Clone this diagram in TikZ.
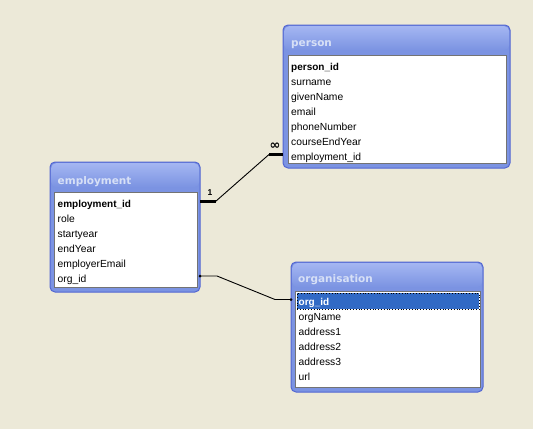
\documentclass[tikz,border=0pt]{standalone}
\usepackage{fontspec}
\setmainfont{Liberation Sans}
\newfontfamily\titlefont{DejaVu Sans}
\usetikzlibrary{calc}

\definecolor{desk}{HTML}{ECE9D8}
\definecolor{winblue}{HTML}{7B93E2}
\definecolor{winedge}{HTML}{5266D2}
\definecolor{titletop}{HTML}{A4B6F2}
\definecolor{titletext}{HTML}{D7E0F6}
\definecolor{selblue}{HTML}{316AC5}

\begin{document}
\begin{tikzpicture}[x=1pt, y=-1pt,
    win/.style={draw=winedge, fill=winblue, line width=1pt, rounded corners=5pt,
                anchor=north west, inner sep=0pt, outer sep=0pt},
    bar/.style={top color=titletop, bottom color=winblue, rounded corners=5pt,
                anchor=north west, inner sep=0pt, minimum height=24pt},
    title/.style={anchor=west, inner sep=0pt, text=titletext,
                  font=\titlefont\bfseries\fontsize{10.5}{12}\selectfont},
    list/.style={draw=black!55, fill=white, line width=1pt, anchor=north west, inner sep=0pt},
    field/.style={anchor=west, inner sep=0pt, text height=7pt, text depth=2pt,
                  font=\fontsize{10.3}{12}\selectfont},
    key/.style={field, font=\bfseries\fontsize{10}{12}\selectfont},
    rel/.style={line width=0.9pt},
    stub/.style={line width=2.8pt},
    card/.style={inner sep=0pt, font=\bfseries\fontsize{8.5}{9}\selectfont},
    dot/.style={circle, fill, inner sep=0pt, minimum size=3pt},
  ]
    \path[use as bounding box, fill=desk] (0,0) rectangle (533,429);

    % person table -----------------------------------------------------------
    \node[win, minimum width=227pt, minimum height=143pt] (person) at (283,25) {};
    \node[bar, minimum width=225pt] (p-bar)   at (284,26) {};
    \node[title]                    (p-title) at (291,45) {person};
    \node[list, minimum width=218.5pt, minimum height=108pt] (p-list) at (287.5,55) {};
    \node[key]   (p-id)      at (291,67.5)  {person\_id};
    \node[field] (p-surname) at (291,82.5)  {surname};
    \node[field] (p-given)   at (291,97.5)  {givenName};
    \node[field] (p-email)   at (291,112.5) {email};
    \node[field] (p-phone)   at (291,127.5) {phoneNumber};
    \node[field] (p-course)  at (291,142.5) {courseEndYear};
    \node[field] (p-empid)   at (291,157.5) {employment\_id};

    % employment table -------------------------------------------------------
    \node[win, minimum width=150pt, minimum height=130pt] (employment) at (50,162) {};
    \node[bar, minimum width=148pt] (e-bar)   at (51,163)   {};
    \node[title]                    (e-title) at (57.5,182) {employment};
    \node[list, minimum width=143pt, minimum height=95pt] (e-list) at (54,192) {};
    \node[key]   (e-id)     at (57.5,204.5) {employment\_id};
    \node[field] (e-role)   at (57.5,219.5) {role};
    \node[field] (e-start)  at (57.5,234.5) {startyear};
    \node[field] (e-end)    at (57.5,249.5) {endYear};
    \node[field] (e-email)  at (57.5,264.5) {employerEmail};
    \node[field] (e-orgid)  at (57.5,279.5) {org\_id};

    % organisation table -----------------------------------------------------
    \node[win, minimum width=192pt, minimum height=130pt] (organisation) at (291,262) {};
    \node[bar, minimum width=190pt] (o-bar)   at (292,263) {};
    \node[title]                    (o-title) at (298,280) {organisation};
    \node[list, minimum width=185pt, minimum height=96pt] (o-list) at (295,291) {};
    \node[fill=selblue, draw=black, dotted, line width=0.8pt, anchor=north west,
          inner sep=0pt, minimum width=182pt, minimum height=16pt] (o-sel) at (296.5,293) {};
    \node[key, text=white] (o-id)    at (298.5,302.5) {org\_id};
    \node[field] (o-name)  at (298.5,317.5) {orgName};
    \node[field] (o-addr1) at (298.5,332.5) {address1};
    \node[field] (o-addr2) at (298.5,347.5) {address2};
    \node[field] (o-addr3) at (298.5,362.5) {address3};
    \node[field] (o-url)   at (298.5,377.5) {url};

    % relationships ----------------------------------------------------------
    \coordinate (r1a) at ($(e-id -| employment.east)+(0,-3)$);
    \coordinate (r1d) at ($(p-empid -| person.west)+(0,-3)$);
    \draw[stub] (r1a) -- ++(15.5,0) coordinate (r1b);
    \draw[stub] (r1d) -- ++(-14,0) coordinate (r1c);
    \draw[rel]  (r1b) -- (r1c);
    \node[card] (one)  at (210,193) {1};
    \node[card, font=\titlefont\bfseries\fontsize{13}{14}\selectfont] (many) at (275,146.5) {∞};

    \coordinate (r2a) at ($(e-orgid -| employment.east)+(0,-3.5)$);
    \coordinate (r2d) at ($(o-id -| organisation.west)+(0,-3)$);
    \draw[rel] (r2a) -- ++(17,0) -- ($(r2d)+(-16,0)$) -- (r2d);
    \node[dot] (r2-start) at (r2a) {};
    \node[dot] (r2-end)   at (r2d) {};
  \end{tikzpicture}
\end{document}
